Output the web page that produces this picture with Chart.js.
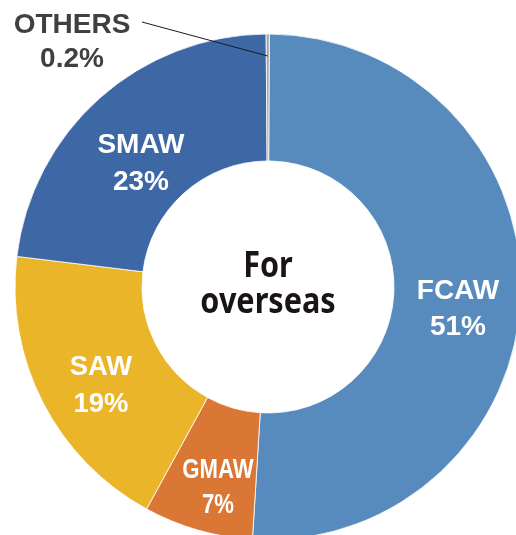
<!DOCTYPE html>
<html>
<head>
<meta charset="utf-8">
<script src="https://cdn.jsdelivr.net/npm/chart.js@4/dist/chart.umd.min.js"></script>
<style>
  html, body { margin: 0; padding: 0; background: #ffffff; overflow: hidden; width: 516px; height: 535px; }
  #c { position: absolute; left: 0; top: 0; }
</style>
</head>
<body>
<canvas id="c" width="536" height="574"></canvas>
<script>
// ---- data ----
const categories = ["FCAW", "GMAW", "SAW", "SMAW", "OTHERS"];
const shareValues = [51, 7, 19, 23, 0.2];
const percentLabels = ["51%", "7%", "19%", "23%", "0.2%"];
const sliceColors = ["#578BBE", "#DB7734", "#EBB529", "#3E67A6", "#A6A6A6"];
const centerLines = ["For", "overseas"];

// label placement (text only)
const labelPlacement = {
  FCAW:   { x: 458, y1: 299, y2: 335, color: "#ffffff", sx: 1.0 },
  GMAW:   { x: 218, y1: 478, y2: 513, color: "#ffffff", sx: 0.79 },
  SAW:    { x: 101, y1: 375, y2: 412, color: "#ffffff", sx: 0.98 },
  SMAW:   { x: 141, y1: 153, y2: 190, color: "#ffffff", sx: 1.0 },
  OTHERS: { x: 72,  y1: 33,  y2: 67,  color: "#404040", sx: 1.0 }
};

function drawText(ctx, text, x, y, font, color, sx) {
  ctx.save();
  ctx.font = font;
  ctx.fillStyle = color;
  ctx.textAlign = "center";
  ctx.textBaseline = "alphabetic";
  ctx.translate(x, y);
  ctx.scale(sx, 1);
  ctx.fillText(text, 0, 0);
  ctx.restore();
}

const labelPlugin = {
  id: "labelPlugin",
  afterDatasetsDraw(chart) {
    const ctx = chart.ctx;
    const meta = chart.getDatasetMeta(0);
    // leader line to the OTHERS slice
    const idx = categories.indexOf("OTHERS");
    const arc = meta.data[idx];
    const mid = (arc.startAngle + arc.endAngle) / 2;
    const r = arc.outerRadius - 22;
    const ex = arc.x + Math.cos(mid) * r;
    const ey = arc.y + Math.sin(mid) * r;
    ctx.save();
    ctx.strokeStyle = "#1a1a1a";
    ctx.lineWidth = 1;
    ctx.beginPath();
    ctx.moveTo(142, 22);
    ctx.lineTo(ex, ey);
    ctx.stroke();
    ctx.restore();

    const font = 'bold 28px "Liberation Sans", Arial, sans-serif';
    categories.forEach((name, i) => {
      const p = labelPlacement[name];
      drawText(ctx, name, p.x, p.y1, font, p.color, p.sx);
      drawText(ctx, percentLabels[i], p.x, p.y2, font, p.color, p.sx);
    });

    // centre text
    const cfont = 'bold 36px "Noto Sans", "Open Sans", sans-serif';
    drawText(ctx, centerLines[0], arc.x, 277, cfont, "#1a1414", 0.85);
    drawText(ctx, centerLines[1], arc.x, 313, cfont, "#1a1414", 0.85);
  }
};

new Chart(document.getElementById("c"), {
  type: "doughnut",
  data: {
    labels: categories,
    datasets: [{
      data: shareValues,
      backgroundColor: sliceColors,
      borderColor: "#ffffff",
      borderWidth: 0.8,
      radius: 253,
      cutout: "49.8%"
    }]
  },
  options: {
    responsive: false,
    animation: false,
    rotation: 0.3,
    layout: { padding: 0 },
    plugins: {
      legend: { display: false },
      tooltip: { enabled: false },
      title: { display: false }
    }
  },
  plugins: [labelPlugin]
});
</script>
</body>
</html>
